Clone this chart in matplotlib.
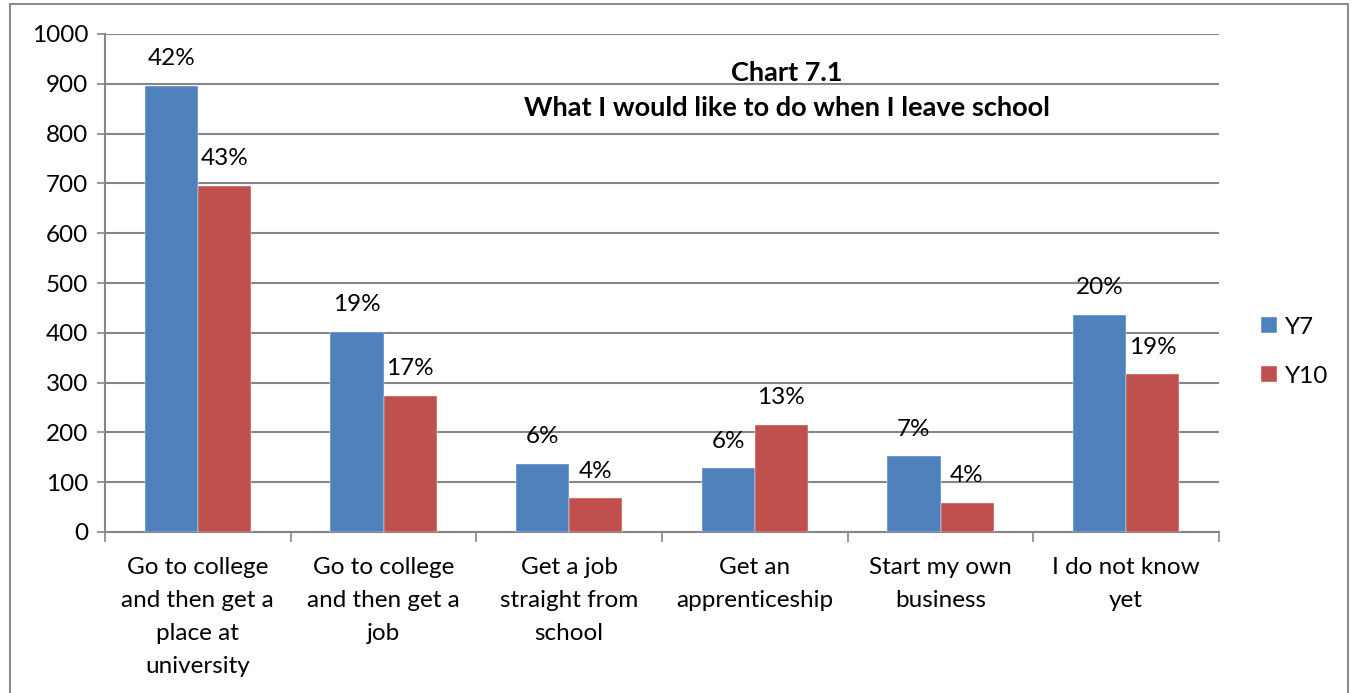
import numpy as np
import matplotlib
matplotlib.use('Agg')
import matplotlib.pyplot as plt
from matplotlib.patches import Rectangle

# Survey counts per destination, with each bar's share of its year group
categories = [
    'Go to college\nand then get a\nplace at\nuniversity',
    'Go to college\nand then get a\njob',
    'Get a job\nstraight from\nschool',
    'Get an\napprenticeship',
    'Start my own\nbusiness',
    'I do not know\nyet',
]
y7_counts = [896, 402, 137, 128, 152, 436]
y10_counts = [695, 274, 68, 215, 59, 317]
y7_pct = ['42%', '19%', '6%', '6%', '7%', '20%']
y10_pct = ['43%', '17%', '4%', '13%', '4%', '19%']
y_ticks = list(range(0, 1001, 100))

BLUE = '#4f81bd'
RED = '#c0504d'
GRID = '#868686'
FS = 17.5

plt.rcParams['font.family'] = ['Lato', 'DejaVu Sans']

W, H = 1355, 693
fig = plt.figure(figsize=(W / 100, H / 100), dpi=100)

# outer chart frame
fig.patches.append(Rectangle((10 / W, -0.05), 1338 / W, 1.05 - 4 / H,
                             transform=fig.transFigure, fill=False,
                             edgecolor='#8c8c8c', linewidth=1.5))

ax = fig.add_axes([105 / W, (H - 532) / H, (1219 - 105) / W, (532 - 34) / H])

x = np.arange(len(categories))
w = 1 / 3.5
b1 = ax.bar(x - w / 2, y7_counts, w, color=BLUE, label='Y7', zorder=3,
            edgecolor='white', linewidth=0.3)
b2 = ax.bar(x + w / 2, y10_counts, w, color=RED, label='Y10', zorder=3,
            edgecolor='white', linewidth=0.3)

for bars, labels in [(b1, y7_pct), (b2, y10_pct)]:
    for bar, lab in zip(bars, labels):
        ax.annotate(lab, (bar.get_x() + bar.get_width() / 2, bar.get_height()),
                    xytext=(0, 19.5), textcoords='offset points',
                    ha='center', va='center', fontsize=FS, color='black')

ax.set_xlim(-0.5, len(categories) - 0.5)
ax.set_ylim(0, 1000)
ax.set_yticks(y_ticks)
ax.yaxis.grid(True, color=GRID, linewidth=1.5, zorder=0)
ax.tick_params(axis='y', length=6, width=1.2, color=GRID, labelsize=FS,
               pad=6)

# category boundaries carry the x tick marks, labels sit at centres
ax.set_xticks(np.arange(len(categories) + 1) - 0.5)
ax.set_xticklabels([])
ax.tick_params(axis='x', length=7, width=1.2, color=GRID)
ax.set_xticks(x, minor=True)
ax.set_xticklabels(categories, minor=True, fontsize=FS, linespacing=1.7)
ax.tick_params(axis='x', which='minor', length=0, pad=18)

for side in ['top', 'right']:
    ax.spines[side].set_visible(False)
for side in ['left', 'bottom']:
    ax.spines[side].set_color(GRID)
    ax.spines[side].set_linewidth(1.5)

fig.text(787 / W, 1 - 73 / H, 'Chart 7.1', ha='center', va='center',
         fontsize=19.5, fontweight='bold')
fig.text(787 / W, 1 - 108 / H, 'What I would like to do when I leave school',
         ha='center', va='center', fontsize=19.5, fontweight='bold')

ax.legend(loc='center left', bbox_to_anchor=(1.018, 0.362), frameon=False,
          fontsize=FS, handlelength=0.65, handleheight=0.65,
          handletextpad=0.35, labelspacing=1.15)

fig.savefig('out.png', dpi=100)
